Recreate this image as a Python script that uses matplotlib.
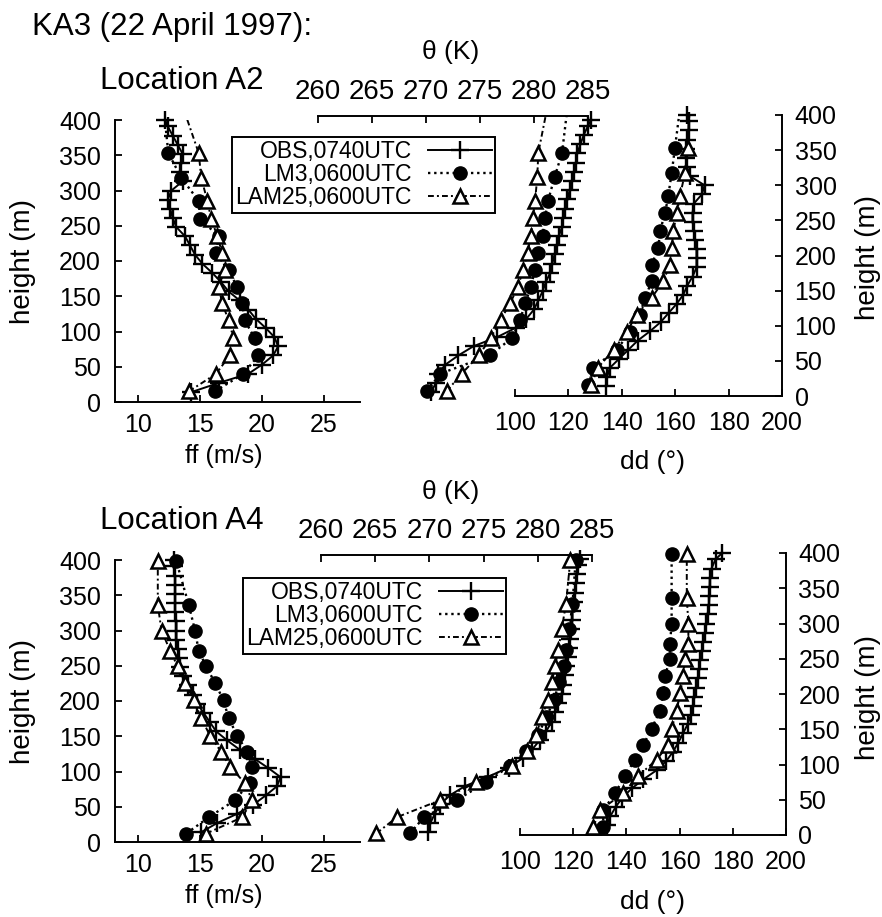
import matplotlib
matplotlib.use("Agg")
import matplotlib.pyplot as plt
from matplotlib.lines import Line2D

plt.rcParams["font.family"] = ["Liberation Sans", "DejaVu Sans"]

W, H = 882, 917   # output size in pixels (dpi 100)

# ── Location A2 (upper block) ────────────────────────────────────────────
a2_obs_h = [14, 27, 40, 53, 66, 79, 92, 105, 118, 131, 144, 157, 170, 183, 196, 209,
            222, 235, 248, 261, 274, 287, 300, 313, 326, 339, 352, 365, 378, 391, 400]
a2_obs_ff = [14.3, 16.5, 18.9, 20.0, 20.9, 21.3, 21.0, 20.3, 19.5, 18.9, 18.2, 17.3, 16.7,
             16.0, 15.2, 14.6, 14.2, 13.8, 13.1, 12.8, 12.6, 12.4, 12.7, 13.6, 13.4, 13.5,
             13.6, 13.2, 12.8, 12.4, 12.2]
a2_obs_theta = [270.5, 270.9, 271.1, 271.8, 273.0, 274.4, 276.6, 278.3, 279.3, 280.0, 280.4,
                280.8, 281.1, 281.5, 281.7, 281.9, 282.1, 282.3, 282.6, 282.7, 282.9, 283.1,
                283.3, 283.5, 283.7, 283.9, 284.0, 284.3, 284.6, 285.0, 285.3]
a2_obs_dd = [134, 134.5, 135.5, 139, 142.5, 146, 150.5, 154.5, 157.5, 160.5, 163, 164.5,
             166.5, 168, 168, 168, 167.5, 167, 166.5, 166.5, 167, 170, 171, 165.5, 164.5,
             164, 164, 164.5, 165, 165, 164.5]

a2_mod_h = [15, 40, 66, 91, 116, 140, 163, 187, 211, 235, 260, 285, 318, 353, 430]
a2_lm3_ff = [16.2, 18.5, 19.7, 19.4, 18.6, 18.4, 18.0, 17.3, 16.3, 16.5, 15.0, 14.9, 13.5, 12.45, 12.0]
a2_lam_ff = [14.1, 16.3, 17.4, 17.7, 17.3, 16.8, 16.5, 17.0, 16.8, 16.4, 15.9, 15.6, 15.1, 14.9, 13.4]
a2_lm3_theta = [270.1, 271.3, 275.9, 278.0, 278.7, 279.2, 279.7, 280.1, 280.4, 280.8, 281.0,
                281.3, 281.9, 282.6, 283.2]
a2_lam_theta = [271.9, 273.3, 274.9, 276.0, 276.9, 277.8, 278.5, 279.0, 279.4, 279.7, 279.9,
                280.1, 280.3, 280.4, 281.4]
a2_lm3_dd = [127.5, 129.3, 138.1, 143.1, 146.8, 148.7, 151.2, 151.2, 153.7, 154.3, 156.2,
             157.4, 158.7, 159.9, 162.5]
a2_lam_dd = [128.5, 131.0, 137.0, 141.8, 145.6, 151.2, 155.5, 158.0, 158.7, 159.3, 160.6,
             161.8, 163.7, 164.9, 165.5]

# ── Location A4 (lower block) ────────────────────────────────────────────
a4_obs_h = a2_obs_h
a4_obs_ff = [15.1, 16.4, 18.0, 19.3, 20.3, 21.2, 21.5, 20.5, 19.4, 18.2, 17.2, 16.3, 15.8,
             15.3, 14.8, 14.4, 14.0, 13.6, 13.4, 13.3, 13.2, 13.1, 13.1, 13.1, 13.0, 13.0,
             13.0, 13.0, 13.0, 12.9, 12.9]
a4_obs_theta = [269.9, 270.1, 270.5, 271.0, 271.9, 273.3, 275.4, 277.3, 278.6, 279.5, 280.2,
                280.8, 281.3, 281.6, 281.9, 282.2, 282.3, 282.5, 282.6, 282.8, 282.9, 283.0,
                283.1, 283.2, 283.2, 283.3, 283.4, 283.5, 283.6, 283.7, 283.9]
a4_obs_dd = [132.6, 134, 136, 138.5, 142, 146.4, 151.4, 155, 157.5, 159.5, 161.3, 163, 164.2,
             165, 165.6, 166.3, 167, 167.4, 167.7, 168.3, 168.9, 169.5, 170.1, 170.5, 171,
             171.2, 171.3, 171.4, 172, 173.5, 176]

a4_mod_h = [12, 35, 59, 84, 107, 128, 151, 176, 201, 226, 249, 271, 300, 336, 398]
a4_lm3_ff = [13.9, 15.7, 17.8, 19.0, 19.2, 18.8, 18.0, 17.3, 16.9, 16.2, 15.5, 14.9, 14.6, 14.1, 13.1]
a4_lam_ff = [15.5, 18.4, 19.2, 18.6, 17.4, 16.7, 15.8, 15.1, 14.5, 13.8, 13.2, 12.6, 11.9, 11.6, 11.6]
a4_lm3_theta = [268.2, 269.5, 272.5, 275.2, 277.4, 278.9, 280.0, 280.8, 281.5, 282.0, 282.4,
                282.6, 282.9, 283.2, 283.5]
a4_lam_theta = [265.1, 267.0, 271.0, 274.3, 277.6, 279.0, 279.8, 280.4, 280.9, 281.3, 281.6,
                281.9, 282.2, 282.6, 283.0]
a4_lm3_dd = [131.3, 131.3, 135.7, 139.5, 143.2, 146.4, 149.5, 152.6, 153.9, 154.5, 156.4,
             156.4, 157.0, 157.0, 157.0]
a4_lam_dd = [127.6, 130.0, 138.8, 144.5, 151.4, 155.8, 157.0, 158.9, 160.2, 161.4, 162.0,
             163.3, 163.3, 162.7, 162.7]

series_labels = ["OBS,0740UTC", "LM3,0600UTC", "LAM25,0600UTC"]
height_ticks = [0, 50, 100, 150, 200, 250, 300, 350, 400]
ff_ticks = [10, 15, 20, 25]
theta_ticks = [260, 265, 270, 275, 280, 285]
dd_ticks = [100, 120, 140, 160, 180, 200]

# line styles: obs solid +, LM3 dotted filled circle, LAM25 dash-dot open triangle
OBS = dict(color="k", ls="-", lw=1.4, marker="+", ms=13, mew=1.7)
LM3 = dict(color="k", ls=(0, (1, 1.6)), lw=1.7, marker="o", ms=9.5, mfc="k", mec="k")
LAM = dict(color="k", ls=(0, (3, 1.6, 1, 1.6)), lw=1.4, marker="^", ms=10,
           mfc="white", mec="k", mew=1.8)

fig = plt.figure(figsize=(W / 100, H / 100), dpi=100)


def px_axes(box):
    """axes from a pixel box (left, top, right, bottom)"""
    l, t, r, b = box
    ax = fig.add_axes([l / W, 1 - b / H, (r - l) / W, (b - t) / H])
    ax.patch.set_visible(False)
    return ax


def ftext(x, y, s, **kw):
    fig.text(x / W, 1 - y / H, s, **kw)


def block(boxes, obs_h, obs_ff, obs_th, obs_dd, mod_h, lm_ff, lam_ff, lm_th, lam_th,
          lm_dd, lam_dd, clip):
    box_ff, box_th, box_dd = boxes
    # wind speed: left height axis + bottom ff axis
    ax_ff = px_axes(box_ff)
    ax_ff.plot(obs_ff, obs_h, clip_on=False, **OBS)
    ax_ff.plot(lm_ff, mod_h, clip_on=clip, **LM3)
    ax_ff.plot(lam_ff, mod_h, clip_on=clip, **LAM)
    ax_ff.set_xlim(8.15, 27.9); ax_ff.set_ylim(0, 400)
    ax_ff.set_xticks(ff_ticks); ax_ff.set_yticks(height_ticks)
    for s in ("top", "right"):
        ax_ff.spines[s].set_visible(False)
    ax_ff.tick_params(direction="in", length=5, width=1.3, labelsize=18)
    ax_ff.tick_params(axis="x", pad=8)
    ax_ff.tick_params(axis="y", pad=10)

    # potential temperature: top axis only
    ax_th = px_axes(box_th)
    ax_th.plot(obs_th, obs_h, clip_on=False, **OBS)
    ax_th.plot(lm_th, mod_h, clip_on=clip, **LM3)
    ax_th.plot(lam_th, mod_h, clip_on=clip, **LAM)
    ax_th.set_xlim(260, 285); ax_th.set_ylim(0, 405)
    ax_th.xaxis.tick_top()
    ax_th.set_xticks(theta_ticks); ax_th.set_yticks([])
    for s in ("left", "right", "bottom"):
        ax_th.spines[s].set_visible(False)
    ax_th.tick_params(direction="in", length=5, width=1.3, labelsize=20, pad=8)

    # wind direction: bottom dd axis + right height axis
    ax_dd = px_axes(box_dd)
    ax_dd.plot(obs_dd, obs_h, clip_on=False, **OBS)
    ax_dd.plot(lm_dd, mod_h, clip_on=clip, **LM3)
    ax_dd.plot(lam_dd, mod_h, clip_on=clip, **LAM)
    ax_dd.set_xlim(100, 200); ax_dd.set_ylim(0, 400)
    ax_dd.set_xticks(dd_ticks); ax_dd.set_yticks(height_ticks)
    ax_dd.yaxis.tick_right()
    for s in ("top", "left"):
        ax_dd.spines[s].set_visible(False)
    ax_dd.tick_params(direction="in", length=5, width=1.3, labelsize=18)
    ax_dd.tick_params(axis="x", pad=11)
    ax_dd.tick_params(axis="y", pad=9)
    for ax in (ax_ff, ax_th, ax_dd):
        for sp in ax.spines.values():
            sp.set_linewidth(1.4)


top_boxes = [(115, 120, 360, 402), (318, 116, 588, 402), (515, 115, 782, 396)]
bot_boxes = [(115, 560, 360, 842), (321, 555, 592, 842), (520, 553, 786, 835)]

block(top_boxes, a2_obs_h, a2_obs_ff, a2_obs_theta, a2_obs_dd, a2_mod_h,
      a2_lm3_ff, a2_lam_ff, a2_lm3_theta, a2_lam_theta, a2_lm3_dd, a2_lam_dd, True)
block(bot_boxes, a4_obs_h, a4_obs_ff, a4_obs_theta, a4_obs_dd, a4_mod_h,
      a4_lm3_ff, a4_lam_ff, a4_lm3_theta, a4_lam_theta, a4_lm3_dd, a4_lam_dd, False)

handles = [Line2D([], [], **OBS), Line2D([], [], **LM3), Line2D([], [], **LAM)]
for x0, y0 in ((232, 137), (243, 578)):
    leg = fig.legend(handles, series_labels, loc="upper left",
                     bbox_to_anchor=(x0 / W, 1 - y0 / H), bbox_transform=fig.transFigure,
                     markerfirst=False, fancybox=False, edgecolor="k", framealpha=1,
                     fontsize=16.5, handlelength=2.8, handletextpad=0.7, borderpad=0.15,
                     labelspacing=0.0, borderaxespad=0, numpoints=1)
    leg.get_frame().set_linewidth(1.4)

# texts
ftext(32, 27, "KA3 (22 April 1997):", fontsize=22.5, va="center")
for dy, loc in ((0, "Location A2"), (440, "Location A4")):
    ftext(100, 81 + dy, loc, fontsize=22.5, va="center")
    ftext(451, 52 + dy, "θ (K)", fontsize=19, ha="center", va="center")
    ftext(224, 456 + dy, "ff (m/s)", fontsize=18, ha="center", va="center")
    ftext(652, 462 + dy, "dd (°)", fontsize=19, ha="center", va="center")
    ftext(23, 261 + dy, "height (m)", fontsize=20, ha="center", va="center", rotation=90)
    ftext(868, 257 + dy, "height (m)", fontsize=20, ha="center", va="center", rotation=90)

fig.savefig("out.png", dpi=100)
